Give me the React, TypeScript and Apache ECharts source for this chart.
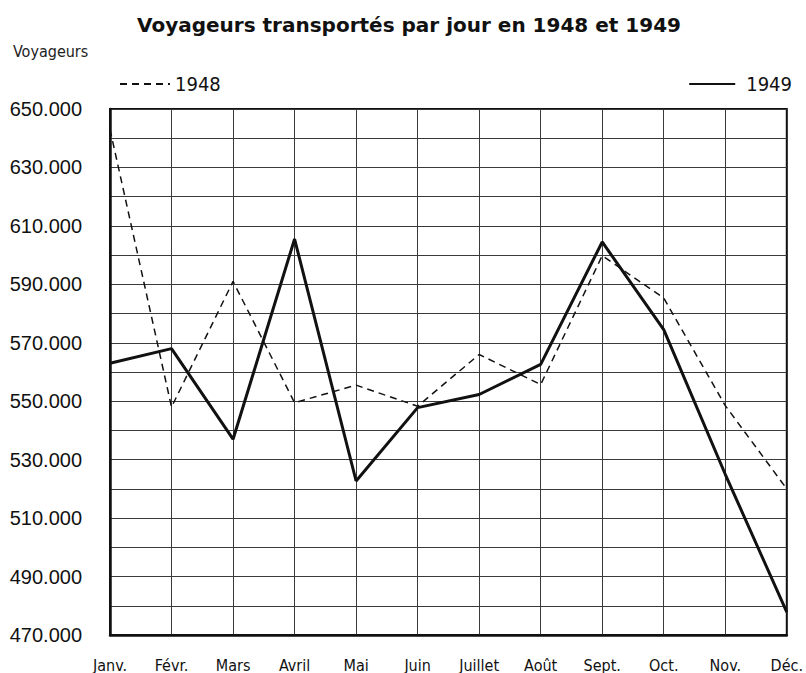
import React, { useEffect, useRef } from "react";
import * as echarts from "echarts";

const months = ["Janv.", "Févr.", "Mars", "Avril", "Mai", "Juin", "Juillet", "Août", "Sept.", "Oct.", "Nov.", "Déc."];
const values1948 = [643000, 548000, 591000, 549500, 555500, 548300, 566000, 555700, 599800, 585300, 548500, 520000];
const values1949 = [563000, 568000, 537000, 605500, 522700, 547800, 552300, 562600, 604500, 574500, 525000, 477800];
const yMin = 470000;
const yMax = 650000;
const yStep = 10000;

const fmt = (v: number) => {
  const t = Math.floor(v / 1000);
  const r = v % 1000;
  return `${t}.${String(r).padStart(3, "0")}`;
};

export default function App() {
  const ref = useRef<HTMLDivElement>(null);
  useEffect(() => {
    document.body.style.margin = "0";
    if (!ref.current) return;
    const chart = echarts.init(ref.current, undefined, { renderer: "svg" });
    const narrow = "'Liberation Sans Narrow', 'DejaVu Sans Condensed', sans-serif";
    chart.setOption({
      animation: false,
      backgroundColor: "#ffffff",
      title: [
        {
          text: "Voyageurs transportés par jour en 1948 et 1949",
          left: 404,
          textAlign: "center",
          top: 10,
          textStyle: {
            fontFamily: "'DejaVu Sans', sans-serif",
            fontWeight: "bold",
            fontSize: 20,
            color: "#111",
          },
        },
        {
          text: "Voyageurs",
          left: 8,
          top: 38,
          textStyle: { fontFamily: narrow, fontWeight: "normal", fontSize: 16, color: "#222" },
        },
      ],
      legend: [
        {
          data: ["1948"],
          left: 114,
          top: 69,
          itemWidth: 50,
          itemHeight: 20,
          itemStyle: { opacity: 0 },
          textStyle: { fontFamily: narrow, fontSize: 20, color: "#111", padding: [0, 0, 0, 0] },
        },
        {
          data: ["1949"],
          right: 9,
          top: 69,
          itemWidth: 46,
          itemHeight: 20,
          itemStyle: { opacity: 0 },
          textStyle: { fontFamily: narrow, fontSize: 20, color: "#111", padding: [0, 0, 0, 6] },
        },
      ],
      grid: {
        left: 110,
        right: 11,
        top: 109,
        bottom: 37,
        show: true,
        borderColor: "#111",
        borderWidth: 2,
      },
      xAxis: {
        type: "category",
        data: months,
        boundaryGap: false,
        axisLine: { show: true, lineStyle: { color: "#111", width: 2.5 } },
        axisTick: { show: false },
        axisLabel: { margin: 22, fontFamily: narrow, fontSize: 16, color: "#111", interval: 0 },
        splitLine: { show: true, interval: 0, lineStyle: { color: "#3a3a3a", width: 1 } },
      },
      yAxis: {
        type: "value",
        min: yMin,
        max: yMax,
        interval: yStep,
        axisLine: { show: true, lineStyle: { color: "#111", width: 2.5 } },
        axisTick: { show: false },
        axisLabel: {
          margin: 28,
          fontFamily: "'Liberation Sans', Arial, sans-serif",
          fontSize: 20,
          color: "#111",
          formatter: (v: number) => ((v - yMin) % 20000 === 0 ? fmt(v) : ""),
        },
        splitLine: { show: true, lineStyle: { color: "#3a3a3a", width: 1 } },
      },
      series: [
        {
          name: "1948",
          type: "line",
          data: values1948,
          symbol: "none",
          lineStyle: { color: "#111", width: 1.5, type: [7, 5] },
          itemStyle: { color: "#111" },
        },
        {
          name: "1949",
          type: "line",
          data: values1949,
          symbol: "none",
          lineStyle: { color: "#111", width: 3 },
          itemStyle: { color: "#111" },
        },
      ],
    });
    return () => chart.dispose();
  }, []);
  return <div ref={ref} style={{ width: 806, height: 673 }} />;
}
